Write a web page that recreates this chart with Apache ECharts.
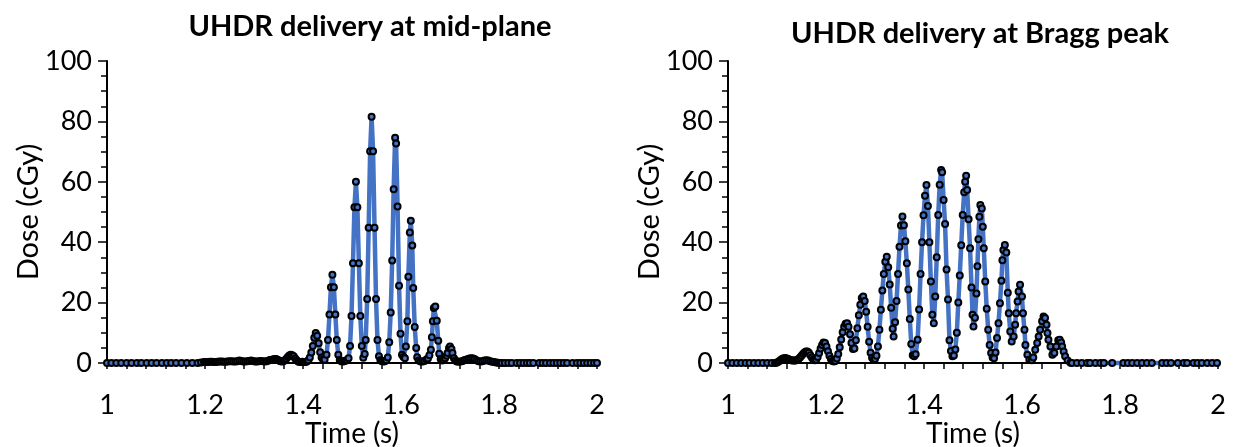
<!DOCTYPE html>
<html>
<head>
<meta charset="utf-8">
<script src="https://cdn.jsdelivr.net/npm/echarts@6/dist/echarts.min.js"></script>
<style>
html,body{margin:0;padding:0;background:#fff;}
#chart{width:1238px;height:447px;}
</style>
</head>
<body>
<div id="chart"></div>
<script>
// ---- Data (time in s, dose in cGy) ----
const titles = ['UHDR delivery at mid-plane', 'UHDR delivery at Bragg peak'];
const xAxisName = 'Time (s)';
const yAxisName = 'Dose (cGy)';
const xTickLabels = ['1', '1.2', '1.4', '1.6', '1.8', '2'];
const yTickLabels = ['0', '20', '40', '60', '80', '100'];

const midPlane = [
[1.000,0],[1.009,0],[1.019,0],[1.029,0],[1.040,0],[1.050,0],[1.061,0],[1.070,0],[1.081,0],[1.091,0],
[1.101,0],[1.112,0],[1.122,0],[1.131,0],[1.141,0],[1.152,0],[1.163,0],[1.174,0],[1.185,0],[1.192,0.2],[1.198,0.3],
[1.202,0.3],[1.206,0.3],[1.210,0.4],[1.214,0.4],[1.218,0.3],[1.222,0.3],[1.226,0.4],[1.230,0.5],[1.234,0.5],[1.238,0.4],
[1.242,0.4],[1.246,0.5],[1.250,0.6],[1.254,0.6],[1.258,0.5],[1.262,0.5],[1.266,0.6],[1.270,0.8],[1.274,0.7],[1.278,0.5],
[1.282,0.5],[1.286,0.6],[1.290,0.7],[1.294,0.8],[1.298,0.7],[1.302,0.5],[1.306,0.5],[1.310,0.6],[1.314,0.7],[1.318,0.6],
[1.322,0.5],[1.326,0.6],[1.330,0.8],[1.333,1.0],[1.336,1.1],[1.339,1.2],[1.342,1.3],[1.345,1.3],[1.348,1.1],[1.351,0.8],
[1.354,0.6],[1.357,0.5],[1.360,0.6],[1.363,0.9],[1.366,1.4],[1.369,2.0],[1.372,2.5],[1.375,2.7],[1.378,2.6],[1.381,2.2],
[1.384,1.5],[1.387,0.9],[1.390,0.5],[1.393,0.3],[1.396,0.3],[1.399,0.4],[1.402,0.3],[1.405,0.3],
[1.408,0.5],[1.411,0.9],[1.414,1.8],[1.417,3.5],[1.420,5.6],[1.423,8.4],[1.426,9.9],[1.429,9.0],[1.432,6.5],[1.435,3.6],
[1.438,1.8],[1.441,1.2],[1.444,1.1],
[1.448,2.7],[1.451,7.6],[1.454,16.1],[1.457,25.1],[1.460,29.2],[1.463,25.1],[1.466,16.1],[1.469,7.6],[1.472,2.7],[1.475,1.0],
[1.478,0.6],[1.481,0.5],[1.484,0.6],[1.487,0.8],
[1.490,0.9],[1.493,1.6],[1.496,5.6],[1.499,15.6],[1.502,33.0],[1.505,51.6],[1.508,60.0],[1.511,51.6],[1.514,33.0],[1.517,15.6],
[1.520,5.6],[1.523,1.7],
[1.526,3.0],[1.528,7.6],[1.531,21.2],[1.534,44.8],[1.537,70.1],[1.540,81.5],[1.543,70.1],[1.546,44.8],[1.549,21.2],[1.552,7.6],
[1.555,2.2],[1.558,0.9],[1.561,0.6],[1.564,0.5],[1.567,0.6],[1.570,0.9],
[1.573,1.8],[1.576,6.9],[1.579,16.7],[1.582,33.9],[1.585,57.5],[1.588,74.6],[1.590,72.7],[1.593,51.8],[1.596,25.6],[1.599,9.7],
[1.602,2.7],[1.605,2.0],[1.608,1.6],
[1.610,5.5],[1.613,13.8],[1.615,28.6],[1.618,43.2],[1.620,47.1],[1.623,38.9],[1.625,24.8],[1.628,11.9],[1.631,5.0],[1.633,1.9],
[1.636,0.8],[1.640,0.5],[1.644,0.5],[1.648,0.7],[1.652,1.2],
[1.655,1.5],[1.658,2.6],[1.661,4.4],[1.663,8.5],[1.665,13.8],[1.667,18.2],[1.670,18.7],[1.673,14.0],[1.676,7.4],[1.678,3.1],
[1.681,1.3],[1.684,0.8],[1.687,1.0],
[1.690,1.6],[1.693,2.4],[1.695,3.3],[1.698,5.0],[1.700,5.5],[1.703,4.6],[1.705,3.3],[1.708,1.6],[1.711,0.8],[1.714,0.5],
[1.718,0.4],[1.722,0.5],[1.726,0.7],[1.730,1.0],[1.734,1.2],[1.738,1.4],[1.742,1.6],[1.746,1.6],[1.750,1.3],[1.754,0.9],
[1.758,0.6],[1.762,0.5],[1.766,0.6],[1.770,0.8],[1.774,0.9],[1.778,0.8],[1.782,0.6],[1.786,0.4],[1.790,0.3],[1.794,0.2],
[1.798,0.1],
[1.802,0],[1.806,0],[1.812,0],[1.819,0],[1.826,0],[1.836,0],[1.843,0],[1.850,0],[1.857,0],[1.863,0],
[1.870,0],[1.882,0],[1.889,0],[1.896,0],[1.904,0],[1.911,0],[1.918,0],[1.925,0],[1.932,0],[1.939,0],
[1.950,0],[1.959,0],[1.966,0],[1.973,0],[1.980,0],[1.987,0],[1.994,0],[2.000,0]
];

const braggPeak = [
[1.000,0],[1.009,0],[1.018,0],[1.027,0],[1.036,0],[1.044,0],[1.053,0],[1.062,0],[1.071,0],[1.080,0],[1.089,0],[1.096,0],
[1.099,0.1],[1.102,0.3],[1.105,0.7],[1.108,1.1],[1.111,1.4],[1.114,1.6],[1.117,1.65],[1.120,1.5],[1.123,1.3],[1.126,1.1],
[1.129,0.9],[1.132,0.8],[1.135,0.8],[1.138,0.8],[1.141,1.0],[1.144,1.3],[1.147,1.8],[1.150,2.4],[1.153,3.0],[1.156,3.5],
[1.159,3.8],[1.162,3.8],[1.165,3.4],[1.168,2.6],[1.171,1.8],[1.174,1.2],[1.177,0.9],[1.180,1.1],[1.183,2.0],[1.186,3.3],
[1.189,4.8],[1.192,6.0],[1.195,6.8],[1.198,6.6],[1.201,5.5],[1.204,3.9],[1.207,2.4],[1.210,1.3],[1.213,0.7],[1.216,0.5],
[1.219,0.7],[1.222,1.5],[1.225,3.0],[1.228,5.2],[1.231,7.8],[1.234,10.2],[1.237,12.0],[1.240,13.0],[1.243,13.2],[1.246,12.0],
[1.249,9.5],[1.252,6.6],[1.255,4.6],[1.258,4.8],[1.261,7.5],[1.264,11.5],[1.267,15.8],[1.270,19.3],[1.273,21.5],[1.276,22.0],
[1.279,20.5],[1.282,17.0],[1.285,12.0],[1.288,7.0],[1.291,3.4],[1.294,1.7],[1.297,1.1],[1.300,1.3],[1.303,2.4],[1.306,5.5],
[1.309,11.0],[1.312,17.6],[1.315,24.0],[1.318,29.5],[1.321,33.5],[1.324,35.2],[1.327,31.7],[1.330,26.0],[1.333,18.3],[1.336,11.3],
[1.338,8.8],[1.341,13.5],[1.344,20.5],[1.347,29.5],[1.350,38.5],[1.353,45.5],[1.356,48.5],[1.359,45.6],[1.362,40.3],[1.365,33.0],
[1.368,24.3],[1.371,14.6],[1.374,6.3],[1.377,2.6],[1.380,2.2],[1.383,2.9],[1.387,7.7],[1.390,17.7],[1.393,29.5],[1.396,40.0],
[1.399,48.9],[1.402,55.4],[1.405,58.9],[1.408,52.0],[1.411,40.0],[1.414,27.0],[1.417,16.0],[1.420,13.2],[1.423,22.0],[1.426,35.0],
[1.429,49.0],[1.432,59.0],[1.435,63.9],[1.437,63.2],[1.440,54.0],[1.443,46.0],[1.446,31.0],[1.449,21.0],[1.452,7.5],[1.455,4.0],
[1.458,2.2],[1.461,2.5],[1.464,4.5],[1.467,10.0],[1.470,20.0],[1.473,29.0],[1.476,39.0],[1.479,49.0],[1.482,56.5],[1.484,60.0],
[1.486,62.0],[1.488,57.3],[1.491,47.6],[1.494,38.0],[1.497,25.0],[1.499,16.0],[1.501,12.1],[1.504,15.0],[1.507,23.0],[1.509,32.0],
[1.511,41.0],[1.513,48.4],[1.515,52.3],[1.518,51.2],[1.520,45.1],[1.522,38.0],[1.525,27.0],[1.528,18.0],[1.531,11.0],[1.534,6.0],
[1.537,3.3],[1.540,1.8],[1.543,1.6],[1.546,3.5],[1.549,8.3],[1.552,13.2],[1.555,19.8],[1.558,27.2],[1.560,34.0],[1.562,37.4],
[1.565,39.1],[1.568,36.6],[1.571,23.3],[1.573,16.5],[1.576,10.4],[1.579,7.1],[1.583,8.8],[1.586,12.7],[1.588,16.5],[1.591,20.4],
[1.593,23.7],[1.596,25.9],[1.600,22.0],[1.602,16.5],[1.605,11.0],[1.607,6.0],[1.611,2.7],[1.615,1.1],[1.620,0.9],[1.623,1.8],
[1.627,4.4],[1.631,6.6],[1.634,8.8],[1.637,11.0],[1.641,13.8],[1.644,15.4],[1.647,14.9],[1.650,12.7],[1.652,9.9],[1.654,7.7],
[1.658,5.5],[1.662,2.7],[1.666,3.3],[1.670,5.5],[1.674,7.5],[1.677,7.7],[1.680,6.8],[1.682,5.5],[1.685,3.8],[1.688,2.2],
[1.693,0.8],[1.699,0.1],
[1.702,0],[1.712,0],[1.722,0],[1.733,0],[1.739,0],[1.750,0],[1.760,0],[1.767,0],[1.784,0],[1.807,0],
[1.816,0],[1.825,0],[1.835,0],[1.845,0],[1.855,0],[1.865,0],[1.886,0],[1.895,0],[1.904,0],[1.918,0],
[1.930,0],[1.937,0],[1.950,0],[1.958,0],[1.967,0],[1.978,0],[1.988,0],[1.998,0]
];

// ---- Chart ----
const FONT = 'Lato, "Liberation Sans", sans-serif';
const chart = echarts.init(document.getElementById('chart'), null, {renderer: 'canvas'});

const grids = [
  {left: 107, top: 61, width: 490, height: 302, outerBoundsMode: 'none', containLabel: false},
  {left: 728, top: 61, width: 490, height: 302, outerBoundsMode: 'none', containLabel: false}
];

function makeX(i) {
  return {
    type: 'value', gridIndex: i, min: 1, max: 2, interval: 0.2,
    name: xAxisName, nameLocation: 'middle', nameGap: 57, nameMoveOverlap: false,
    nameTextStyle: {fontFamily: FONT, fontSize: 28, color: '#000'},
    axisLine: {show: true, onZero: false, lineStyle: {color: '#000', width: 2}},
    axisTick: {show: true, length: 6, lineStyle: {color: '#000', width: 1.5}},
    minorTick: {show: true, splitNumber: 5, length: 6, lineStyle: {color: '#000', width: 1.5}},
    splitLine: {show: false},
    axisLabel: {fontFamily: FONT, fontSize: 27, color: '#000', margin: 29,
      formatter: (v, idx) => xTickLabels[idx]}
  };
}
function makeY(i) {
  return {
    type: 'value', gridIndex: i, min: 0, max: 100, interval: 20,
    name: yAxisName, nameLocation: 'middle', nameGap: 64, nameMoveOverlap: false,
    nameTextStyle: {fontFamily: FONT, fontSize: 29, color: '#000'},
    axisLine: {show: true, lineStyle: {color: '#000', width: 2}},
    axisTick: {show: true, length: 9, lineStyle: {color: '#000', width: 1.5}},
    minorTick: {show: true, splitNumber: 4, length: 6, lineStyle: {color: '#000', width: 1.5}},
    splitLine: {show: false},
    axisLabel: {fontFamily: FONT, fontSize: 27, color: '#000', margin: 15,
      formatter: (v, idx) => yTickLabels[idx]}
  };
}
function makeSeries(i, data) {
  return {
    type: 'line', xAxisIndex: i, yAxisIndex: i, data: data,
    symbol: 'circle', symbolSize: 6, showAllSymbol: true, clip: false,
    lineStyle: {color: '#4472C4', width: 4.5},
    itemStyle: {color: '#4472C4', borderColor: '#000', borderWidth: 2},
    emphasis: {disabled: true}
  };
}

chart.setOption({
  animation: false,
  backgroundColor: '#fff',
  grid: grids,
  xAxis: [makeX(0), makeX(1)],
  yAxis: [makeY(0), makeY(1)],
  series: [makeSeries(0, midPlane), makeSeries(1, braggPeak)],
  graphic: [
    {type: 'text', x: 370, y: 27, style: {text: titles[0], font: 'bold 29px ' + FONT, fill: '#000', textAlign: 'center', textVerticalAlign: 'middle'}},
    {type: 'text', x: 980, y: 34, style: {text: titles[1], font: 'bold 29px ' + FONT, fill: '#000', textAlign: 'center', textVerticalAlign: 'middle'}}
  ]
});
</script>
</body>
</html>
